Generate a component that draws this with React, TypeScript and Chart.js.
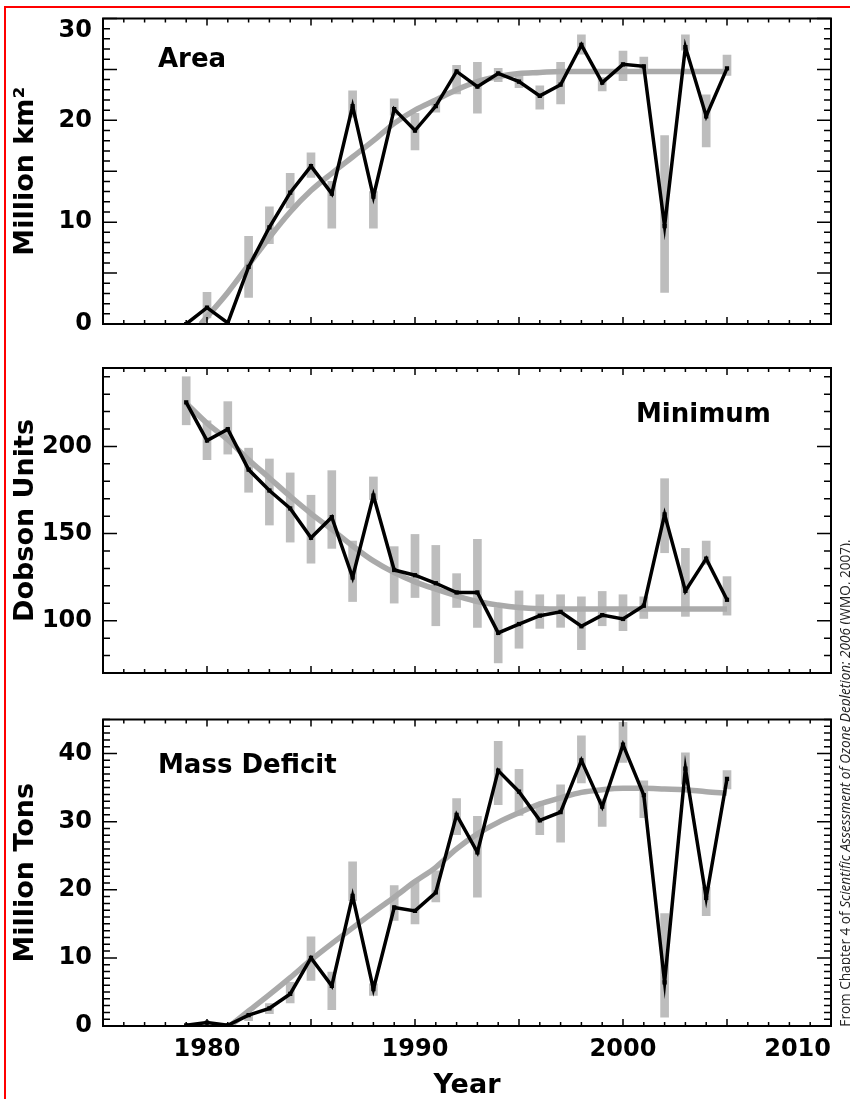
import React, { useEffect, useRef } from "react";
import { Chart, registerables } from "chart.js";

Chart.register(...registerables);

// ---------- data ----------
const YEARS = [1979, 1980, 1981, 1982, 1983, 1984, 1985, 1986, 1987, 1988, 1989, 1990, 1991, 1992, 1993, 1994, 1995, 1996, 1997, 1998, 1999, 2000, 2001, 2002, 2003, 2004, 2005];

// Area (million km2)
const AREA = [0, 1.6, 0.1, 5.6, 9.5, 12.9, 15.5, 12.8, 21.4, 12.5, 21.1, 19.0, 21.4, 24.8, 23.3, 24.6, 23.8, 22.4, 23.5, 27.4, 23.7, 25.5, 25.3, 9.6, 27.2, 20.4, 25.1];
const AREA_LO = [null, 0.6, null, 2.6, 7.9, 11.4, 14.4, 9.4, 20.3, 9.4, 20.5, 17.1, 20.8, 22.6, 20.7, 23.8, 23.2, 21.1, 21.6, 26.5, 22.9, 23.9, 24.6, 3.1, 26.9, 17.4, 24.4];
const AREA_HI = [null, 3.1, null, 8.6, 11.5, 14.8, 16.8, 14.0, 22.9, 13.0, 22.1, 20.7, 22.0, 25.4, 25.7, 25.1, 24.4, 23.4, 25.7, 28.4, 24.2, 26.8, 26.2, 18.5, 28.4, 22.5, 26.4];
const AREA_FIT_YEARS = [1979.7, 1980, 1981, 1982, 1983, 1984, 1985, 1986, 1987, 1988, 1989, 1990, 1991, 1992, 1993, 1994, 1995, 1996, 1997, 1998, 1999, 2000, 2001, 2002, 2003, 2004, 2005];
const AREA_FIT = [0, 0.7, 3.1, 5.8, 8.5, 11.0, 13.1, 14.8, 16.4, 18.0, 19.7, 21.0, 22.0, 23.0, 23.8, 24.3, 24.6, 24.7, 24.8, 24.8, 24.8, 24.8, 24.8, 24.8, 24.8, 24.8, 24.8];

// Minimum (Dobson Units)
const MINIMUM = [225.3, 203.4, 209.9, 186.7, 174.7, 164.4, 147.6, 159.4, 124.8, 171.8, 129.1, 126.1, 121.5, 116.2, 116.2, 93.0, 98.1, 102.9, 105.1, 96.8, 103.2, 101.0, 108.6, 161.0, 117.1, 135.6, 112.0];
const MINIMUM_LO = [212.4, 192.4, 195.6, 173.7, 154.9, 145.1, 133.0, 141.5, 111.0, 169.5, 110.1, 113.3, 97.1, 107.6, 96.2, 75.8, 84.2, 95.6, 96.2, 83.4, 97.1, 94.3, 101.3, 139.0, 102.5, 132.4, 103.2];
const MINIMUM_HI = [240.0, 214.7, 225.7, 199.0, 192.8, 184.8, 172.0, 186.1, 145.7, 182.5, 142.5, 149.5, 143.2, 127.0, 146.7, 107.6, 117.1, 114.9, 114.9, 113.7, 116.8, 114.9, 113.7, 181.5, 141.5, 145.7, 125.3];
const MINIMUM_FIT_YEARS = [1979, 1980, 1981, 1982, 1983, 1984, 1985, 1986, 1987, 1988, 1989, 1990, 1991, 1992, 1993, 1994, 1995, 1996, 1997, 1998, 1999, 2000, 2001, 2002, 2003, 2004, 2005];
const MINIMUM_FIT = [224.8, 213.3, 203.8, 192.4, 181.9, 171.4, 161.5, 152.4, 142.9, 134.3, 127.6, 122.3, 118.1, 114.3, 111.0, 109.0, 107.6, 106.9, 106.7, 106.7, 106.7, 106.7, 106.7, 106.7, 106.7, 106.7, 106.7];

// Mass deficit (million tons)
const MASS = [0.1, 0.5, 0.1, 1.6, 2.6, 4.7, 10.0, 5.9, 19.1, 5.4, 17.4, 16.9, 19.6, 31.0, 25.5, 37.5, 34.4, 30.2, 31.4, 39.0, 32.2, 41.3, 33.9, 6.4, 37.8, 18.8, 36.3];
const MASS_LO = [null, null, null, 0.8, 1.8, 3.4, 6.7, 2.4, 18.4, 4.5, 15.5, 15.0, 18.2, 28.1, 18.9, 32.5, 30.9, 28.1, 27.0, 35.7, 29.3, 38.7, 30.6, 1.3, 35.5, 16.2, 34.8];
const MASS_HI = [null, null, null, 1.8, 3.3, 6.4, 13.1, 7.9, 24.1, 6.2, 20.6, 21.1, 22.8, 33.4, 30.8, 41.8, 37.7, 32.7, 35.4, 42.6, 33.3, 44.6, 36.0, 16.5, 40.1, 20.4, 37.5];
const MASS_FIT_YEARS = [1981.1, 1982, 1983, 1984, 1985, 1986, 1987, 1988, 1989, 1990, 1991, 1992, 1993, 1994, 1995, 1996, 1997, 1998, 1999, 2000, 2001, 2002, 2003, 2004, 2005];
const MASS_FIT = [0, 2.2, 4.6, 7.1, 9.7, 12.1, 14.4, 16.7, 18.9, 21.2, 23.3, 26.0, 28.2, 29.9, 31.3, 32.6, 33.5, 34.3, 34.7, 34.9, 34.9, 34.8, 34.7, 34.4, 34.2];

// axis tick labels
const X_LABELS = [1980, 1990, 2000, 2010];
const AREA_Y_LABELS = [0, 10, 20, 30];
const MINIMUM_Y_LABELS = [100, 150, 200];
const MASS_Y_LABELS = [0, 10, 20, 30, 40];

// ---------- styling ----------
const BOLD = "'DejaVu Sans', 'Liberation Sans', sans-serif";
const GRAY_BAR = "#bdbdbd";
const GRAY_FIT = "#aaaaaa";

const framePlugin = {
  id: "frame",
  beforeDraw(chart: any, _args: any, opts: any) {
    if (opts.topLabelTop) {
      const items = chart.scales.y.getLabelItems(chart.chartArea);
      const last = items[items.length - 1];
      if (last) last.options.textBaseline = "top";
    }
  },
  afterDatasetsDraw(chart: any, _args: any, opts: any) {
    const { ctx, chartArea: a, scales } = chart;
    const xs = scales.x;
    const ys = scales.y;
    ctx.save();
    ctx.strokeStyle = "#000";
    ctx.lineWidth = 1.5;
    ctx.beginPath();
    const kx0 = Math.ceil(xs.min / opts.xMinor - 1e-9);
    const kx1 = Math.floor(xs.max / opts.xMinor + 1e-9);
    for (let k = kx0; k <= kx1; k++) {
      const v = k * opts.xMinor;
      const p = xs.getPixelForValue(v);
      const major = Math.abs(v / opts.xMajor - Math.round(v / opts.xMajor)) < 1e-6;
      const len = major ? opts.xMajorLen : opts.xMinorLen;
      ctx.moveTo(p, a.bottom);
      ctx.lineTo(p, a.bottom - len);
      ctx.moveTo(p, a.top);
      ctx.lineTo(p, a.top + len);
    }
    const ky0 = Math.ceil(ys.min / opts.yMinor - 1e-9);
    const ky1 = Math.floor(ys.max / opts.yMinor + 1e-9);
    for (let k = ky0; k <= ky1; k++) {
      const v = k * opts.yMinor;
      const p = ys.getPixelForValue(v);
      const major = Math.abs(v / opts.yMajor - Math.round(v / opts.yMajor)) < 1e-6;
      const len = major ? opts.yMajorLen : opts.yMinorLen;
      ctx.moveTo(a.left, p);
      ctx.lineTo(a.left + len, p);
      ctx.moveTo(a.right, p);
      ctx.lineTo(a.right - len, p);
    }
    ctx.stroke();
    ctx.lineWidth = 2;
    ctx.strokeRect(a.left, a.top, a.right - a.left, a.bottom - a.top);
    ctx.restore();
  },
};

type PanelProps = {
  top: number;
  height: number;
  padTop: number;
  padBottom: number;
  xAxisHeight: number;
  showX: boolean;
  values: number[];
  lo: (number | null)[];
  hi: (number | null)[];
  fitYears: number[];
  fit: number[];
  yMin: number;
  yMax: number;
  yStep: number;
  yLabels: number[];
  yTitle: string;
  yMinor: number;
  yMajor: number;
  topLabelTop?: boolean;
};

function Panel(p: PanelProps) {
  const ref = useRef<HTMLCanvasElement | null>(null);
  useEffect(() => {
    if (!ref.current) return;
    const bars = YEARS.map((x, i) =>
      p.lo[i] == null || p.hi[i] == null ? null : { x, y: [p.lo[i], p.hi[i]] }
    ).filter((d) => d !== null);
    const chart = new Chart(ref.current, {
      type: "line",
      data: {
        datasets: [
          {
            type: "line",
            data: YEARS.map((x, i) => ({ x, y: p.values[i] })),
            borderColor: "#000",
            borderWidth: 3.5,
            pointStyle: "rect",
            pointRadius: 3,
            pointBackgroundColor: "#000",
            pointBorderWidth: 0,
            tension: 0,
            order: 0,
          },
          {
            type: "line",
            data: p.fitYears.map((x, i) => ({ x, y: p.fit[i] })),
            borderColor: GRAY_FIT,
            borderWidth: 5.5,
            pointRadius: 0,
            cubicInterpolationMode: "monotone",
            order: 1,
          },
          {
            type: "bar",
            data: bars as any,
            backgroundColor: GRAY_BAR,
            borderWidth: 0,
            barThickness: 8,
            order: 2,
          },
        ],
      } as any,
      options: {
        animation: false,
        responsive: false,
        maintainAspectRatio: false,
        events: [],
        layout: { padding: { top: p.padTop, bottom: p.padBottom, left: 0, right: 19 } },
        plugins: {
          legend: { display: false },
          tooltip: { enabled: false },
          frame: {
            xMinor: 1,
            xMajor: 5,
            xMinorLen: 4,
            xMajorLen: 7,
            yMinor: p.yMinor,
            yMajor: p.yMajor,
            yMinorLen: 7,
            yMajorLen: 14,
            topLabelTop: !!p.topLabelTop,
          },
        } as any,
        scales: {
          x: {
            type: "linear",
            min: 1975,
            max: 2010,
            offset: false,
            grid: { display: false, drawTicks: false, tickLength: 0 },
            border: { display: false },
            ticks: {
              display: p.showX,
              stepSize: 10,
              autoSkip: false,
              maxRotation: 0,
              minRotation: 0,
              align: "inner",
              padding: 9,
              color: "#000",
              font: { family: BOLD, size: 24, weight: "bold" },
              callback: (v: any) => (X_LABELS.includes(Number(v)) ? String(v) : ""),
            },
            title: {
              display: p.showX,
              text: "Year",
              color: "#000",
              font: { family: BOLD, size: 27, weight: "bold", lineHeight: 1 },
              padding: { top: 0, bottom: 0 },
            },
            afterFit: (s: any) => {
              s.height = p.xAxisHeight;
            },
          },
          y: {
            type: "linear",
            min: p.yMin,
            max: p.yMax,
            grid: { display: false, drawTicks: false, tickLength: 0 },
            border: { display: false },
            ticks: {
              stepSize: p.yStep,
              autoSkip: false,
              padding: 11,
              color: "#000",
              font: { family: BOLD, size: 24, weight: "bold", lineHeight: 0.4 },
              callback: (v: any) => (p.yLabels.includes(Number(v)) ? String(v) : ""),
            },
            title: {
              display: true,
              text: p.yTitle,
              color: "#000",
              font: { family: BOLD, size: 27, weight: "bold", lineHeight: 1 },
              padding: { top: 12, bottom: 0 },
            },
            afterFit: (s: any) => {
              s.width = 103;
            },
          },
        },
      } as any,
      plugins: [framePlugin as any],
    });
    return () => chart.destroy();
  }, []);
  return (
    <canvas
      ref={ref}
      width={850}
      height={p.height}
      style={{ position: "absolute", left: 0, top: p.top, width: 850, height: p.height }}
    />
  );
}

const labelStyle: React.CSSProperties = {
  position: "absolute",
  fontFamily: BOLD,
  fontWeight: "bold",
  fontSize: 26,
  lineHeight: "26px",
  color: "#000",
  whiteSpace: "nowrap",
};

export default function App() {
  return (
    <div style={{ position: "absolute", left: 0, top: 0, width: 850, height: 1099, background: "#fff", overflow: "hidden" }}>
      <Panel
        top={0}
        height={345}
        padTop={18.5}
        padBottom={21}
        xAxisHeight={0}
        showX={false}
        values={AREA}
        lo={AREA_LO}
        hi={AREA_HI}
        fitYears={AREA_FIT_YEARS}
        fit={AREA_FIT}
        yMin={0}
        yMax={30}
        yStep={10}
        yLabels={AREA_Y_LABELS}
        yTitle="Million km²"
        yMinor={1}
        yMajor={5}
        topLabelTop
      />
      <Panel
        top={345}
        height={350}
        padTop={23}
        padBottom={22}
        xAxisHeight={0}
        showX={false}
        values={MINIMUM}
        lo={MINIMUM_LO}
        hi={MINIMUM_HI}
        fitYears={MINIMUM_FIT_YEARS}
        fit={MINIMUM_FIT}
        yMin={70}
        yMax={245}
        yStep={50}
        yLabels={MINIMUM_Y_LABELS}
        yTitle="Dobson Units"
        yMinor={10}
        yMajor={50}
      />
      <Panel
        top={695}
        height={404}
        padTop={24.5}
        padBottom={0}
        xAxisHeight={73}
        showX={true}
        values={MASS}
        lo={MASS_LO}
        hi={MASS_HI}
        fitYears={MASS_FIT_YEARS}
        fit={MASS_FIT}
        yMin={0}
        yMax={45}
        yStep={10}
        yLabels={MASS_Y_LABELS}
        yTitle="Million Tons"
        yMinor={1}
        yMajor={10}
      />
      <div style={{ ...labelStyle, left: 158, top: 45 }}>Area</div>
      <div style={{ ...labelStyle, left: 636, top: 400 }}>Minimum</div>
      <div style={{ ...labelStyle, left: 158, top: 751 }}>Mass Deficit</div>
      <div
        style={{
          position: "absolute",
          left: 845,
          top: 783,
          transform: "translate(-50%, -50%) rotate(-90deg)",
          whiteSpace: "nowrap",
          fontFamily: "'Open Sans', sans-serif",
          fontSize: 13.6,
          lineHeight: "14px",
          color: "#222",
        }}
      >
        From Chapter 4 of <i>Scientific Assessment of Ozone Depletion: 2006</i> (WMO, 2007).
      </div>
      <div
        style={{
          position: "absolute",
          left: 4,
          top: 6,
          width: 846,
          height: 1093,
          borderTop: "2px solid #ff0000",
          borderLeft: "2px solid #ff0000",
          boxSizing: "border-box",
          pointerEvents: "none",
        }}
      />
    </div>
  );
}
